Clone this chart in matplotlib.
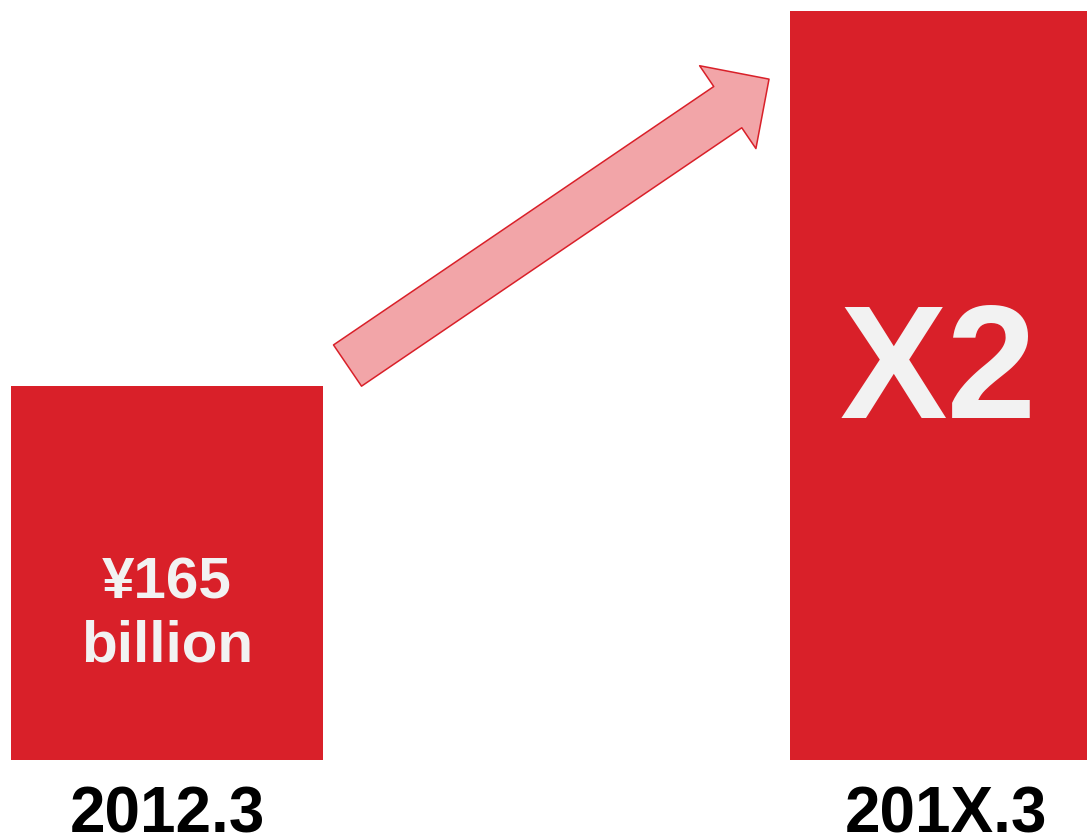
import matplotlib.pyplot as plt

plt.rcParams['font.family'] = ['Liberation Sans', 'DejaVu Sans']

# Bar data: base year amount and the doubled target
periods = ["2012.3", "201X.3"]
values = [165, 330]
bar_labels = ["\u00a5165\nbillion", "X2"]

bar_red = '#D92029'
arrow_fill = '#F2A5A8'
text_light = '#F2F2F2'

fig = plt.figure(figsize=(10.87, 8.36), dpi=100)
ax = fig.add_axes([0, 0.0909, 1, 0.8959])

x = range(len(values))
ax.bar(x, values, width=0.40, color=bar_red, edgecolor='none')

ax.set_xlim(-0.2144, 1.181)
ax.set_ylim(0, 330)

# Labels inside the bars
ax.text(0, 64, bar_labels[0], ha='center', va='center', color=text_light,
        fontsize=42, fontweight='bold', linespacing=1.22)
ax.text(0.99, 169, bar_labels[1], ha='center', va='center', color=text_light,
        fontsize=116, fontweight='bold')

# Growth arrow between the two bars
ax.annotate('', xy=(0.7728, 300.0), xytext=(0.2317, 173.8),
            arrowprops=dict(arrowstyle='simple,head_length=3.59,head_width=7.21,tail_width=3.59',
                            mutation_scale=10, shrinkA=0, shrinkB=0,
                            fc=arrow_fill, ec=bar_red, lw=1.1))

ax.set_xticks(list(x))
ax.set_xticklabels(periods, fontsize=46, fontweight='bold', color='black')
ax.tick_params(axis='x', length=0, pad=18)
ax.set_yticks([])
for s in ax.spines.values():
    s.set_visible(False)

fig.savefig('out.png', dpi=100)
